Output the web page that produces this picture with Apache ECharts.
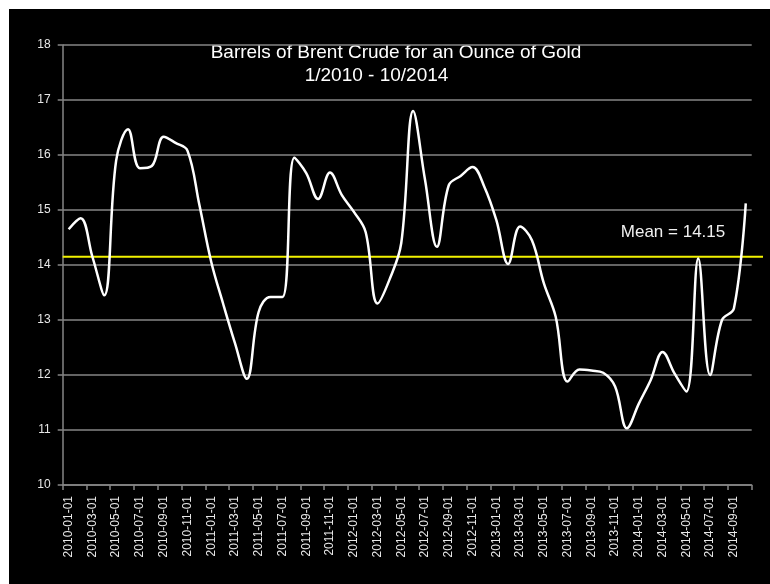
<!DOCTYPE html>
<html>
<head>
<meta charset="utf-8">
<script src="https://cdn.jsdelivr.net/npm/echarts@6/dist/echarts.min.js"></script>
<style>
html,body{margin:0;padding:0;background:#ffffff;width:770px;height:584px;overflow:hidden;}
#chart{position:absolute;left:9px;top:9px;width:761px;height:575px;background:#000;}
</style>
</head>
<body>
<div id="chart"></div>
<script>
const categories = [
'2010-01-01','2010-02-01','2010-03-01','2010-04-01','2010-05-01','2010-06-01','2010-07-01','2010-08-01','2010-09-01','2010-10-01','2010-11-01','2010-12-01',
'2011-01-01','2011-02-01','2011-03-01','2011-04-01','2011-05-01','2011-06-01','2011-07-01','2011-08-01','2011-09-01','2011-10-01','2011-11-01','2011-12-01',
'2012-01-01','2012-02-01','2012-03-01','2012-04-01','2012-05-01','2012-06-01','2012-07-01','2012-08-01','2012-09-01','2012-10-01','2012-11-01','2012-12-01',
'2013-01-01','2013-02-01','2013-03-01','2013-04-01','2013-05-01','2013-06-01','2013-07-01','2013-08-01','2013-09-01','2013-10-01','2013-11-01','2013-12-01',
'2014-01-01','2014-02-01','2014-03-01','2014-04-01','2014-05-01','2014-06-01','2014-07-01','2014-08-01','2014-09-01','2014-10-01'
];
const ratio = [
14.65,14.85,14.15,13.45,15.9,16.47,15.76,15.8,16.33,16.22,16.08,15.1,
14.06,13.3,12.58,11.93,13.15,13.42,13.42,15.95,15.67,15.2,15.68,15.27,
14.97,14.6,13.3,13.73,14.4,16.8,15.55,14.33,15.45,15.62,15.78,15.42,
14.82,14.02,14.7,14.45,13.67,13.06,11.88,12.1,12.08,12.04,11.79,11.03,
11.48,11.91,12.42,12.03,11.7,14.12,12.0,13.0,13.21,15.12
];
const meanValue = 14.15;
const meanLine = [[0, meanValue], [1, meanValue]];
const titleLines = ['Barrels of Brent Crude for an Ounce of Gold', '1/2010 - 10/2014'];
const meanLabel = 'Mean = 14.15';

const FONT = 'Arial, "Liberation Sans", sans-serif';
const chart = echarts.init(document.getElementById('chart'), null, {renderer: 'canvas'});
chart.setOption({
  backgroundColor: '#000000',
  animation: false,
  grid: [
    {left: 53.7, top: 36, width: 689, height: 440},
    {left: 53.7, top: 36, width: 700.3, height: 440}
  ],
  xAxis: [
    {
      type: 'category', gridIndex: 0, data: categories, boundaryGap: true,
      axisLine: {show: true, lineStyle: {color: '#868686', width: 1.5}},
      axisTick: {show: true, interval: 1, length: 5, lineStyle: {color: '#868686', width: 1.5}},
      axisLabel: {interval: 1, rotate: 90, color: '#e8e8e8', fontSize: 12, fontFamily: FONT, margin: 11},
      splitLine: {show: false}
    },
    {type: 'value', gridIndex: 1, min: 0, max: 1, show: false}
  ],
  yAxis: [
    {
      type: 'value', gridIndex: 0, min: 10, max: 18, interval: 1,
      axisLine: {show: true, lineStyle: {color: '#868686', width: 1.5}},
      axisTick: {show: true, length: 5, lineStyle: {color: '#868686', width: 1.5}},
      axisLabel: {color: '#e8e8e8', fontSize: 12, fontFamily: FONT, margin: 12},
      splitLine: {show: true, lineStyle: {color: '#868686', width: 1.5}}
    },
    {type: 'value', gridIndex: 1, min: 10, max: 18, show: false}
  ],
  graphic: [
    {type: 'text', style: {x: 387, y: 43.5, text: titleLines[0], fill: '#ffffff', font: '19px ' + FONT, textAlign: 'center', textVerticalAlign: 'middle'}},
    {type: 'text', style: {x: 367.5, y: 66.5, text: titleLines[1], fill: '#ffffff', font: '19px ' + FONT, textAlign: 'center', textVerticalAlign: 'middle'}},
    {type: 'text', style: {x: 664, y: 223, text: meanLabel, fill: '#f0f0f0', font: '17px ' + FONT, textAlign: 'center', textVerticalAlign: 'middle'}}
  ],
  series: [
    {
      type: 'line', xAxisIndex: 1, yAxisIndex: 1, data: meanLine,
      symbol: 'none', lineStyle: {color: '#f2f200', width: 1.8}, z: 3
    },
    {
      type: 'line', xAxisIndex: 0, yAxisIndex: 0, data: ratio,
      smooth: 0.38, symbol: 'none',
      lineStyle: {color: '#ffffff', width: 2.5}, z: 4
    }
  ]
});
</script>
</body>
</html>
